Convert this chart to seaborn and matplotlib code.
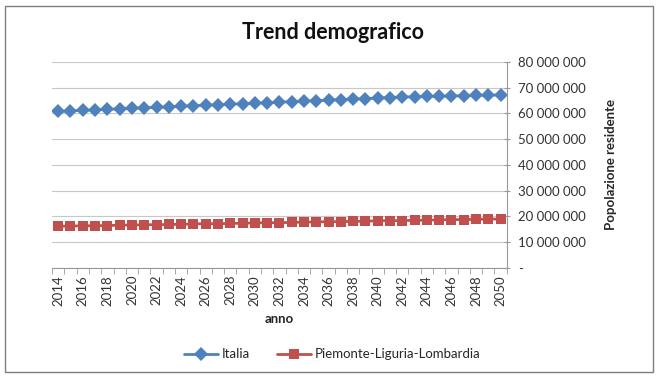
import numpy as np
import pandas as pd
import matplotlib
matplotlib.use("Agg")
import matplotlib.pyplot as plt
from matplotlib.patches import Rectangle
from matplotlib.ticker import FuncFormatter, MultipleLocator
import seaborn as sns

years = list(range(2014, 2051))

italia = [60.8, 61.0, 61.2, 61.4, 61.6, 61.8, 62.0, 62.2, 62.4, 62.6,
          62.8, 63.0, 63.2, 63.4, 63.6, 63.8, 64.0, 64.2, 64.4, 64.6,
          64.8, 65.0, 65.2, 65.4, 65.6, 65.8, 66.0, 66.2, 66.4, 66.5,
          66.6, 66.7, 66.8, 66.9, 67.0, 67.1, 67.2]

piemonte_liguria_lombardia = [16.2, 16.3, 16.4, 16.4, 16.5, 16.6, 16.7, 16.8, 16.8, 16.9,
                              17.0, 17.1, 17.2, 17.2, 17.3, 17.4, 17.5, 17.6, 17.6, 17.7,
                              17.8, 17.9, 18.0, 18.0, 18.1, 18.2, 18.3, 18.4, 18.4, 18.5,
                              18.6, 18.7, 18.8, 18.8, 18.9, 19.0, 19.0]

series_names = ["Italia", "Piemonte-Liguria-Lombardia"]

df = pd.DataFrame({
    "anno": years * 2,
    "pop": [v * 1e6 for v in italia] + [v * 1e6 for v in piemonte_liguria_lombardia],
    "serie": [series_names[0]] * len(years) + [series_names[1]] * len(years),
})

sns.set_style("white")
plt.rcParams["font.family"] = ["Lato", "DejaVu Sans"]

fig = plt.figure(figsize=(6.59, 3.78), dpi=100)
ax = fig.add_axes([0.079, 0.291, 0.690, 0.545])

palette = {"Italia": "#4F81BD", "Piemonte-Liguria-Lombardia": "#C0504D"}
markers = {"Italia": "D", "Piemonte-Liguria-Lombardia": "s"}

sns.lineplot(data=df, x="anno", y="pop", hue="serie", style="serie",
             palette=palette, markers=markers, dashes=False,
             markersize=7.5, linewidth=2, markeredgewidth=0, ax=ax, legend=True)

ax.set_xlim(2013.5, 2050.5)
ax.set_ylim(0, 80e6)

# y axis on the right
ax.yaxis.tick_right()
ax.yaxis.set_label_position("right")
ax.yaxis.set_major_locator(MultipleLocator(10e6))
ax.yaxis.set_major_formatter(FuncFormatter(
    lambda v, p: "-" if v == 0 else f"{int(v):,}".replace(",", " ")))
ax.tick_params(axis="y", which="major", length=4, direction="inout",
               color="#999999", labelsize=9.5, labelcolor="#333333", pad=6)
ax.grid(axis="y", color="#c8c8c8", linewidth=0.8)
ax.set_axisbelow(True)

# year labels every two years, tick marks at category boundaries
ax.set_xticks(years[::2])
ax.set_xticklabels([str(y) for y in years[::2]], rotation=90)
ax.set_xticks([y - 0.5 for y in years] + [years[-1] + 0.5], minor=True)
ax.tick_params(axis="x", which="major", length=0, labelsize=9.5,
               labelcolor="#333333", pad=5)
ax.tick_params(axis="x", which="minor", length=4, color="#999999",
               direction="out")
ax.tick_params(axis="x", bottom=True, which="both")

for side in ["top", "left"]:
    ax.spines[side].set_visible(False)
for side in ["right", "bottom"]:
    ax.spines[side].set_color("#999999")
    ax.spines[side].set_linewidth(0.8)

ax.set_xlabel("anno", fontsize=9.5, fontweight="bold", labelpad=5)
ax.set_ylabel("Popolazione residente", fontsize=9.5, fontweight="bold",
              labelpad=14)

fig.text(0.505, 0.915, "Trend demografico", ha="center", va="center",
         fontsize=15.5, fontweight="bold", color="#111111")

handles, labels = ax.get_legend_handles_labels()
ax.legend_.remove()
fig.legend(handles, labels, loc="center", bbox_to_anchor=(0.504, 0.063),
           ncol=2, frameon=False, fontsize=9.5, handlelength=2.6,
           columnspacing=2.0, handletextpad=0.3)

fig.patches.append(Rectangle((0.008, 0.016), 0.983, 0.968,
                             transform=fig.transFigure, fill=False,
                             edgecolor="#7f7f7f", linewidth=1.0))

fig.savefig("out.png", dpi=100)
